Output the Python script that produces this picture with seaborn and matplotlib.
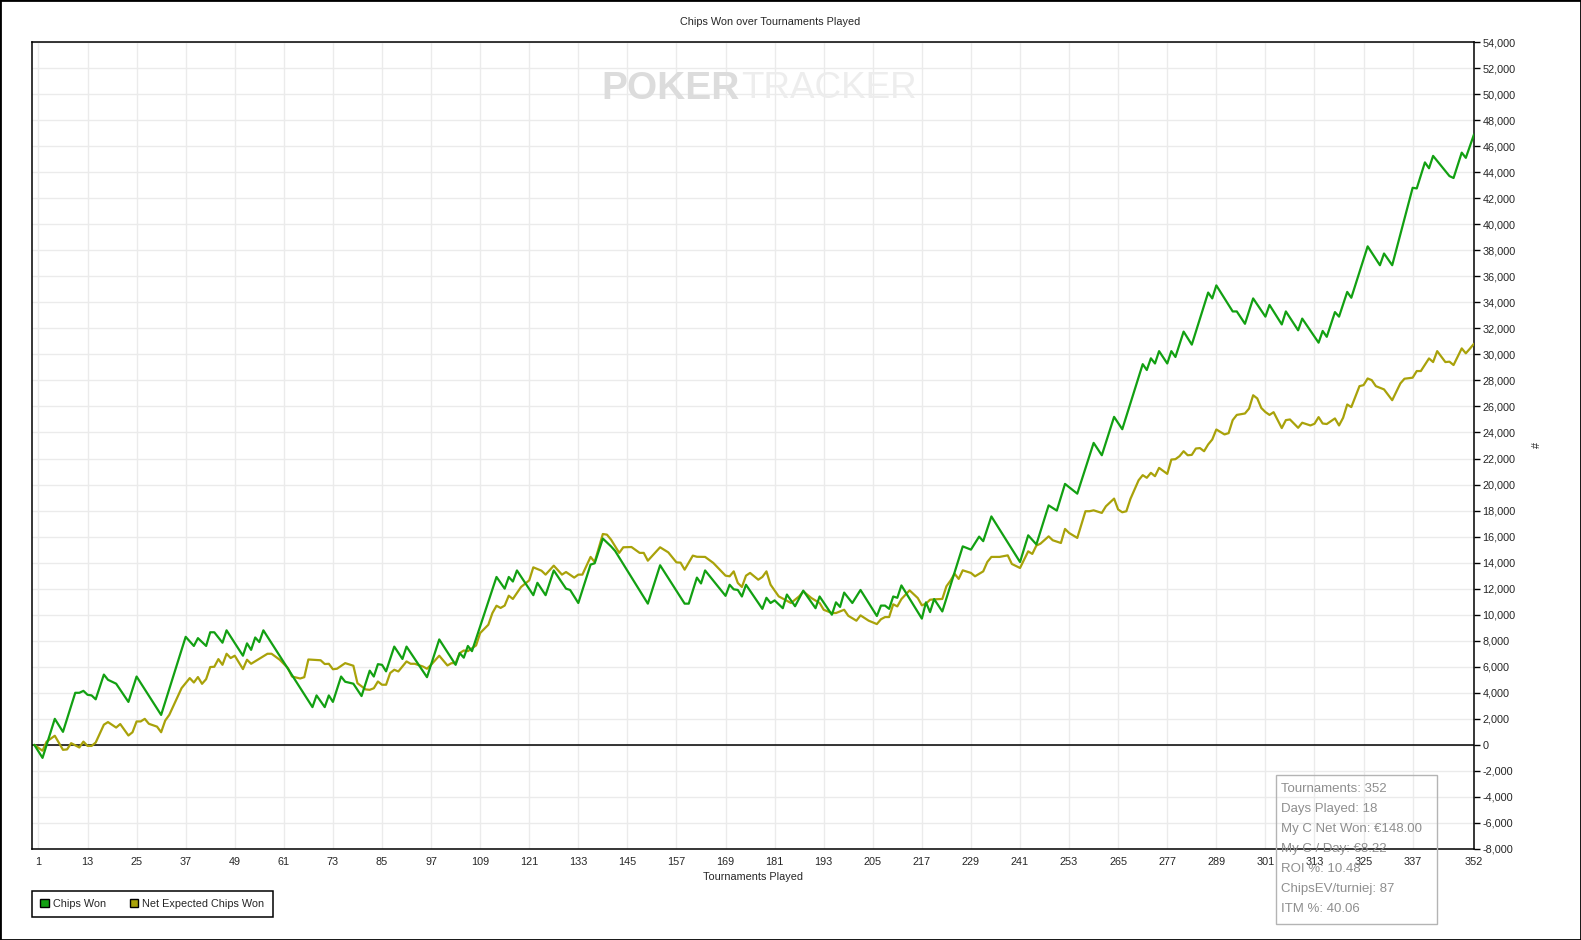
import pandas as pd
import numpy as np
import matplotlib
matplotlib.use("Agg")
import matplotlib.pyplot as plt
from matplotlib.patches import Patch, Rectangle
import seaborn as sns

# ============================================================================
# Data (tournament number -> cumulative chips)
# ============================================================================

chips_t = [0, 2, 5, 7, 10, 11, 12, 13, 14, 15, 17, 18, 20, 23, 25, 31, 37, 39, 40, 42,
           43, 44, 46, 47, 51, 52, 53, 54, 55, 56, 68, 69, 71, 72, 73, 75, 76, 78, 80, 82,
           83, 84, 85, 86, 88, 90, 91, 96, 99, 103, 104, 105, 106, 107, 113, 115, 116, 117, 118, 122,
           123, 125, 127, 130, 131, 133, 136, 137, 139, 141, 142, 150, 153, 159, 160, 162, 163, 164, 169, 170,
           171, 172, 173, 174, 178, 179, 180, 181, 183, 184, 186, 188, 191, 192, 195, 196, 197, 198, 200, 202,
           206, 207, 208, 209, 210, 211, 212, 217, 218, 219, 220, 222, 227, 229, 231, 232, 234, 241, 243, 245,
           248, 250, 252, 255, 259, 261, 264, 266, 271, 272, 273, 274, 275, 277, 278, 279, 281, 283, 287, 288,
           289, 293, 294, 296, 298, 301, 302, 305, 306, 309, 310, 314, 315, 316, 318, 319, 321, 322, 326, 329,
           330, 332, 337, 338, 340, 341, 342, 346, 347, 349, 350, 352]
chips_won = [0, -1000, 2000, 1000, 4000, 4000, 4150, 3850, 3800, 3500, 5400, 5000, 4700, 3300, 5250, 2300, 8300, 7600, 8200, 7600,
             8650, 8650, 7850, 8800, 6850, 7800, 7300, 8250, 7900, 8800, 2900, 3800, 2900, 3800, 3300, 5250, 4850, 4700, 3750, 5700,
             5250, 6200, 6150, 5650, 7550, 6600, 7550, 5200, 8100, 6150, 7050, 6700, 7600, 7200, 12900, 12000, 12900, 12550, 13400, 11500,
             12450, 11500, 13400, 12000, 11900, 10900, 13850, 13950, 15850, 15250, 14900, 10850, 13800, 10850, 10850, 12850, 12400, 13400, 11450, 12300,
             11950, 11900, 11400, 12300, 10450, 11300, 10900, 11100, 10500, 11550, 10650, 11850, 10500, 11400, 10000, 10950, 10600, 11700, 10900, 11900,
             9900, 10700, 10700, 10450, 11400, 11300, 12250, 9700, 10950, 10200, 11200, 10250, 15250, 15000, 16000, 15650, 17550, 14050, 16100, 15400,
             18400, 18000, 20050, 19300, 23200, 22250, 25200, 24250, 29250, 28800, 29700, 29300, 30250, 29300, 30250, 29800, 31750, 30750, 34750, 34300,
             35300, 33300, 33300, 32350, 34300, 32900, 33800, 32300, 33300, 31850, 32750, 30900, 31800, 31350, 33250, 32900, 34800, 34350, 38300, 36850,
             37750, 36850, 42800, 42750, 44750, 44300, 45250, 43700, 43550, 45500, 45100, 46900]

ev_t = [0, 2, 3, 5, 7, 8, 9, 11, 12, 13, 14, 15, 17, 18, 20, 21, 23, 24, 25, 26,
        27, 28, 30, 31, 32, 33, 36, 38, 39, 40, 41, 42, 43, 44, 45, 46, 47, 48, 49, 51,
        52, 53, 57, 58, 60, 62, 63, 65, 66, 67, 70, 71, 72, 73, 74, 76, 78, 79, 81, 82,
        83, 84, 85, 86, 87, 88, 89, 91, 92, 93, 95, 96, 97, 99, 101, 102, 103, 104, 105, 106,
        108, 109, 111, 112, 113, 114, 115, 116, 117, 119, 121, 122, 124, 125, 127, 129, 130, 132, 133, 134,
        136, 137, 139, 140, 141, 143, 144, 146, 148, 149, 150, 153, 155, 157, 158, 159, 161, 162, 164, 166,
        169, 170, 171, 172, 173, 174, 175, 177, 178, 179, 180, 182, 185, 187, 188, 190, 192, 193, 195, 196,
        198, 199, 201, 202, 204, 206, 207, 208, 209, 210, 211, 212, 214, 216, 217, 218, 219, 220, 222, 223,
        224, 225, 226, 227, 229, 230, 232, 233, 234, 236, 238, 239, 241, 243, 244, 245, 246, 248, 249, 251,
        252, 253, 255, 257, 258, 259, 261, 262, 264, 265, 266, 267, 268, 270, 271, 272, 273, 274, 275, 277,
        278, 279, 280, 281, 282, 283, 284, 285, 286, 287, 288, 289, 291, 292, 293, 294, 296, 297, 298, 299,
        300, 301, 302, 303, 305, 306, 307, 309, 310, 312, 313, 314, 315, 316, 318, 319, 320, 321, 322, 324,
        325, 326, 327, 328, 330, 332, 334, 335, 337, 338, 339, 341, 342, 343, 345, 346, 347, 349, 350, 351,
        352]
ev_won = [0, -450, 250, 700, -380, -350, 130, -200, 250, -80, -80, 180, 1550, 1750, 1330, 1600, 720, 970, 1800, 1800,
          2000, 1620, 1400, 970, 1870, 2310, 4360, 5130, 4790, 5210, 4690, 5050, 5980, 6000, 6590, 6150, 7000, 6670, 6850, 5820,
          6540, 6230, 7000, 7000, 6540, 5900, 5250, 5100, 5200, 6560, 6500, 6210, 6230, 5810, 5850, 6280, 6080, 4740, 4260, 4230,
          4350, 4870, 4620, 4620, 5520, 5770, 5640, 6410, 6230, 6230, 6020, 5850, 6150, 6850, 6100, 6280, 6280, 7050, 7250, 7200,
          7640, 8590, 9230, 10130, 10690, 10520, 10700, 11460, 11210, 12130, 12640, 13640, 13380, 13080, 13770, 13080, 13280, 12850, 13080, 13080,
          14440, 14050, 16200, 16150, 15770, 14750, 15180, 15200, 14750, 14750, 14150, 15180, 14790, 14020, 14000, 13460, 14540, 14450, 14440, 13980,
          13000, 12950, 13330, 12440, 12130, 13000, 13210, 12690, 12900, 13330, 12310, 11410, 10900, 11410, 11790, 11280, 10900, 10380, 10130, 10130,
          10380, 9920, 9540, 9950, 9540, 9280, 9650, 9820, 9820, 10800, 10640, 11200, 11870, 11280, 10720, 10850, 11150, 11180, 11210, 12180,
          12620, 13150, 12750, 13410, 13210, 12950, 13330, 14050, 14440, 14440, 14560, 13900, 13590, 14870, 14670, 15310, 15460, 16020, 15720, 15510,
          16590, 16280, 15900, 17950, 17950, 18020, 17820, 18330, 18920, 18080, 17870, 17950, 18900, 20330, 20720, 20520, 20900, 20640, 21280, 20820,
          21920, 21950, 22180, 22560, 22250, 22280, 22770, 22800, 22560, 23080, 23460, 24230, 23850, 23950, 24950, 25350, 25460, 25840, 26860, 26620,
          25880, 25570, 25350, 25560, 24340, 24950, 25000, 24360, 24750, 24540, 24670, 25180, 24690, 24650, 25080, 24540, 25130, 26150, 25950, 27560,
          27640, 28150, 28020, 27560, 27310, 26480, 27770, 28130, 28210, 28720, 28720, 29690, 29410, 30250, 29410, 29440, 29180, 30460, 30080, 30440,
          30820]

x_ticks = list(range(1, 338, 12)) + [352]
y_ticks = list(range(-8000, 54001, 2000))

stats_lines = ["Tournaments: 352", "Days Played: 18", "My C Net Won: €148.00",
               "My C / Day: €8.22", "ROI %: 10.48", "ChipsEV/turniej: 87", "ITM %: 40.06"]

chips_df = pd.DataFrame({"Tournament": chips_t, "Chips": chips_won})
ev_df = pd.DataFrame({"Tournament": ev_t, "Chips": ev_won})

# ============================================================================
# Figure
# ============================================================================

sns.set_theme(style="white")
plt.rcParams["font.family"] = ["Liberation Sans", "DejaVu Sans"]

W, H = 1581, 940
fig = plt.figure(figsize=(W / 100, H / 100), dpi=100)
fig.patch.set_facecolor("white")

ax = fig.add_axes([32.3 / W, 1 - 849 / H, (1474 - 32.3) / W, (849 - 42) / H])

green = "#12a012"
olive = "#a9a20a"

ax.axhline(0, color="black", linewidth=1.1, zorder=2)

sns.lineplot(data=chips_df, x="Tournament", y="Chips", color=green,
             linewidth=1.6, ax=ax, zorder=4, sort=False)
sns.lineplot(data=ev_df, x="Tournament", y="Chips", color=olive,
             linewidth=1.6, ax=ax, zorder=3, sort=False)

ax.set_xlim(-0.5, 352)
ax.set_ylim(-8000, 54000)

ax.set_xticks(x_ticks)
ax.set_yticks(y_ticks)
ax.set_yticklabels([f"{v:,}" for v in y_ticks])

ax.yaxis.tick_right()
ax.yaxis.set_label_position("right")
ax.tick_params(axis="both", direction="out", length=4, width=1,
               color="black", labelsize=7.8, pad=2)

ax.grid(True, color="#ebebeb", linewidth=1)
ax.set_axisbelow(True)

for side in ["left", "right", "top", "bottom"]:
    ax.spines[side].set_visible(True)
    ax.spines[side].set_color("black")
    ax.spines[side].set_linewidth(1.1)

ax.set_xlabel("Tournaments Played", fontsize=7.8, labelpad=3)
ax.set_ylabel("#", fontsize=7.8, labelpad=12, rotation=90)

fig.text(770 / W, 1 - 22 / H, "Chips Won over Tournaments Played",
         ha="center", va="center", fontsize=7.8)

# watermark
fig.text(740 / W, 1 - 89 / H, "POKER", ha="right", va="center",
         fontsize=28, fontweight="bold", color="#dcdcdc", zorder=1)
fig.text(741 / W, 1 - 89 / H, "TRACKER", ha="left", va="center",
         fontsize=26.5, color="#ededed", zorder=1)

# ============================================================================
# Legend
# ============================================================================

handles = [Patch(facecolor=green, edgecolor="black", label="Chips Won"),
           Patch(facecolor=olive, edgecolor="black", label="Net Expected Chips Won")]
leg = fig.legend(handles=handles, loc="upper left",
                 bbox_to_anchor=(32.3 / W, 1 - 890.7 / H), ncol=2,
                 frameon=True, fancybox=False, edgecolor="black", framealpha=1,
                 fontsize=7.8, handlelength=0.75, handleheight=0.75,
                 handletextpad=0.4, columnspacing=2.2, borderpad=0.75,
                 borderaxespad=0)
leg.get_frame().set_linewidth(1.1)

# ============================================================================
# Stats box
# ============================================================================

fig.patches.append(Rectangle((1275.7 / W, 1 - 924 / H), (1436.7 - 1275.7) / W,
                             (924 - 775) / H, transform=fig.transFigure,
                             fill=False, edgecolor="#b4b4b4", linewidth=1, zorder=10))
for i, line in enumerate(stats_lines):
    fig.text(1280.7 / W, 1 - (789 + 20 * i) / H, line, ha="left", va="center",
             fontsize=9.5, color="#8f8f8f", zorder=11)

# outer border
fig.patches.append(Rectangle((0, 0), 1, 1, transform=fig.transFigure,
                             fill=False, edgecolor="black", linewidth=2))

plt.savefig("out.png", dpi=100)
